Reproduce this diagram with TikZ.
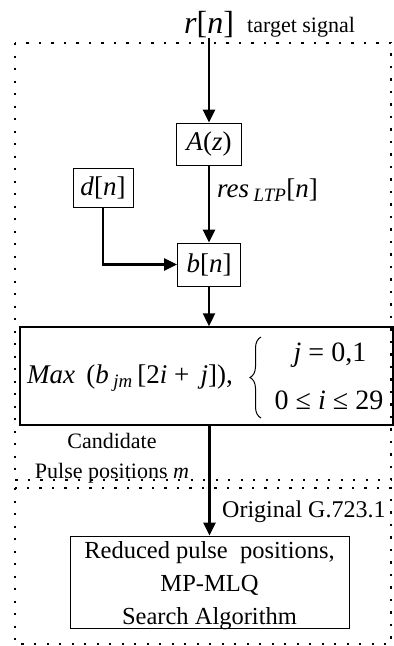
\documentclass[tikz,border=0pt]{standalone}
\usepackage{fontspec}
\setmainfont{Liberation Serif}
\usetikzlibrary{arrows.meta,decorations.pathreplacing}
\tikzset{
  box/.style={draw, line width=0.9pt, inner sep=0pt},
  bigmath/.style={font=\fontsize{27}{30}\selectfont},
  txt/.style={font=\fontsize{22}{30}\selectfont, inner sep=0pt},
  flow/.style={line width=2.4pt, -{Triangle[width=12pt,length=13pt]}},
  dotbox/.style={line width=2.2pt, dash pattern=on 2.2pt off 10.3pt},
  curly/.style={decorate, decoration={brace, amplitude=11pt}, line width=1pt},
}
\begin{document}
\begin{tikzpicture}[x=1pt,y=1pt]
\useasboundingbox (0,0) rectangle (394,-646);
% dotted frames
\draw[dotbox] (15,-43) rectangle (391,-480);
\draw[dotbox] (15,-488) rectangle (391,-644);
% nodes
\node[bigmath, font=\fontsize{32}{34}\selectfont, inner sep=0pt] (r) at (209,-25) {\textit{r}[\textit{n}]};
\node[txt, anchor=west] (ts) at (247,-27) {target signal};
\node[box, bigmath, minimum width=65pt, minimum height=42pt] (A) at (209,-144) {\textit{A}(\textit{z})};
\node[box, bigmath, minimum width=60pt, minimum height=39pt] (d) at (103,-187.5) {\textit{d}[\textit{n}]};
\node[bigmath, anchor=west, inner sep=0pt] (res) at (217,-190) {\textit{res}\,\textsubscript{\textit{LTP}}[\textit{n}]};
\node[box, bigmath, minimum width=63pt, minimum height=43pt] (b) at (209,-264.5) {\textit{b}[\textit{n}]};
\node[box, line width=1.5pt, minimum width=373pt, minimum height=98pt] (max) at (206.5,-376) {};
\node[bigmath, anchor=west, inner sep=0pt] (maxf) at (27,-378) {\textit{Max}\, (\textit{b}\,\textsubscript{\textit{jm}}\,[2\textit{i} + \,\textit{j}]),};
\coordinate (bbot) at (261,-418);
\coordinate (btop) at (261,-337);
\node[bigmath, font=\fontsize{28}{30}\selectfont, inner sep=0pt] (c1) at (330,-355) {\textit{j} = 0,1};
\node[bigmath, font=\fontsize{28}{30}\selectfont, inner sep=0pt] (c2) at (329,-400) {0 ≤ \textit{i} ≤ 29};
\node[txt, align=center] (cand) at (112,-458) {Candidate\\Pulse positions \textit{m}};
\node[txt, anchor=west, font=\fontsize{24}{30}\selectfont] (orig) at (222,-512) {Original G.723.1};
\node[box, minimum width=279pt, minimum height=92pt] (red) at (209.5,-582) {};
\node[txt, align=center, font=\fontsize{24.5}{33}\selectfont] (redtext) at (209.5,-586) {Reduced pulse\ \ positions,\\MP-MLQ\\Search Algorithm};
% brace
\draw[curly] (bbot) -- (btop);
% connectors
\draw[flow] (r.south) -- (A.north);
\draw[flow] (A.south) -- (b.north);
\draw[flow] (d.south) |- (b.west);
\draw[flow] (b.south) -- (b.south |- max.north);
\draw[flow] (max.south -| red.north) -- (red.north);
\end{tikzpicture}
\end{document}
